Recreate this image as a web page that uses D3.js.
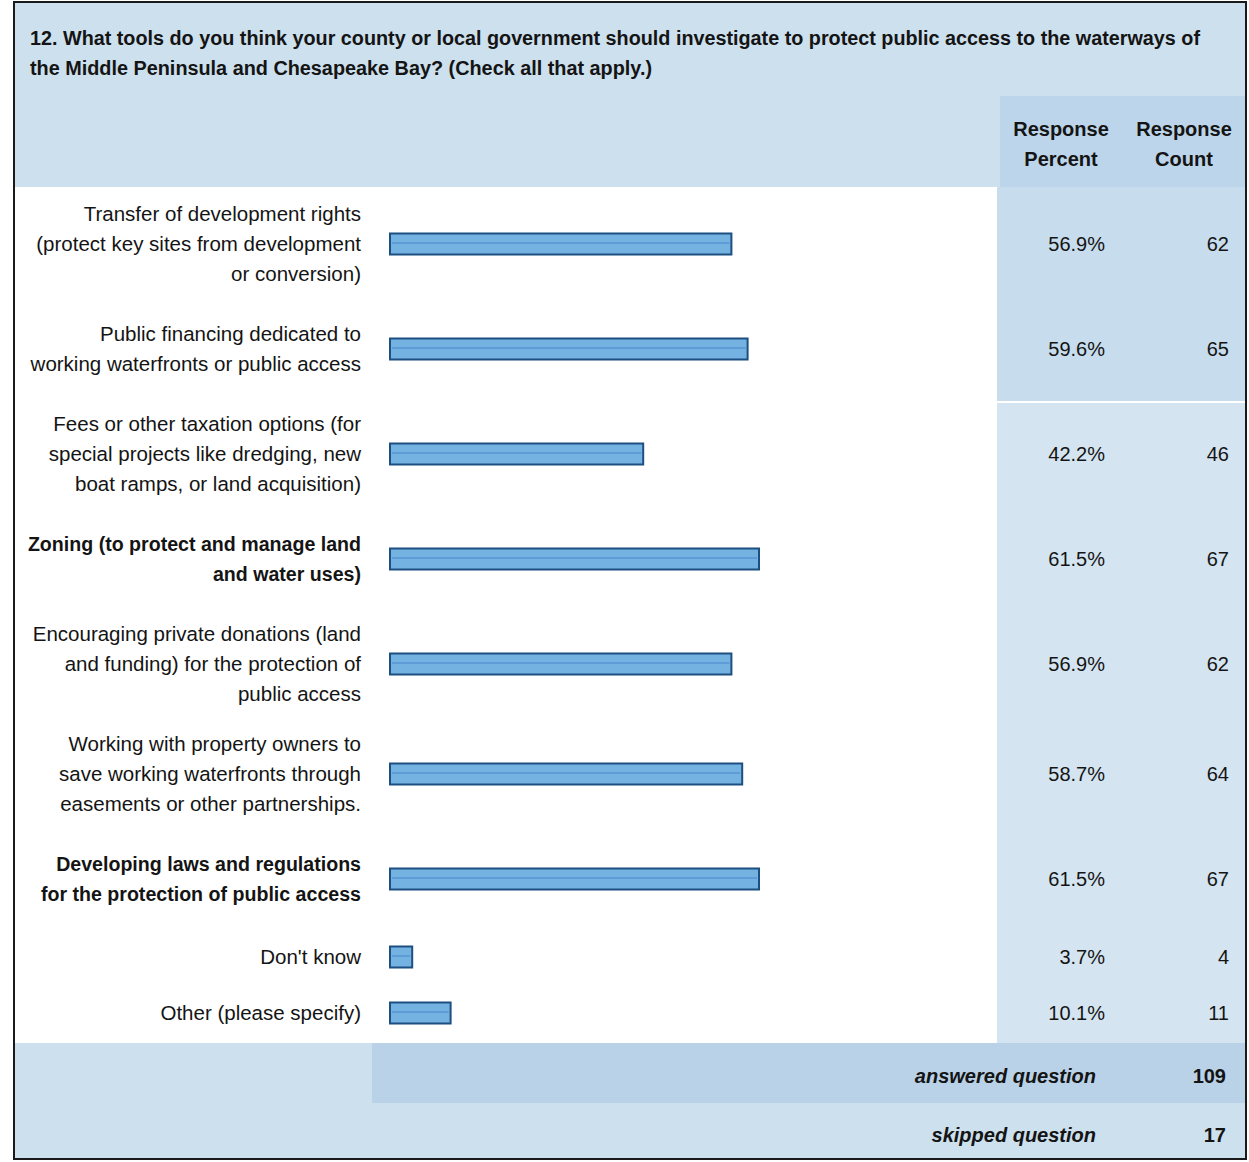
<!DOCTYPE html>
<html>
<head>
<meta charset="utf-8">
<script src="https://cdn.jsdelivr.net/npm/d3@7"></script>
<style>
  body { margin: 0; background: #ffffff; }
  svg text { font-family: "Liberation Sans", Arial, sans-serif; fill: #141414; }
</style>
</head>
<body>
<div id="chart"></div>
<script>
// question title (two lines as printed)
const titleLines = [
    "12. What tools do you think your county or local government should investigate to protect public access to the waterways of",
    "the Middle Peninsula and Chesapeake Bay? (Check all that apply.)"
];

// answer options, each broken into printed lines
const options = [
    ["Transfer of development rights", "(protect key sites from development", "or conversion)"],
    ["Public financing dedicated to", "working waterfronts or public access"],
    ["Fees or other taxation options (for", "special projects like dredging, new", "boat ramps, or land acquisition)"],
    ["Zoning (to protect and manage land", "and water uses)"],
    ["Encouraging private donations (land", "and funding) for the protection of", "public access"],
    ["Working with property owners to", "save working waterfronts through", "easements or other partnerships."],
    ["Developing laws and regulations", "for the protection of public access"],
    ["Don't know"],
    ["Other (please specify)"]
];

// options printed darker in the scan
const boldOptions = [3, 6];

const responsePercent = [56.9, 59.6, 42.2, 61.5, 56.9, 58.7, 61.5, 3.7, 10.1];
const responseCount = [62, 65, 46, 67, 62, 64, 67, 4, 11];

const summaryLabels = ["answered question", "skipped question"];
const summaryValues = [109, 17];

const headerLines = [["Response", "Percent"], ["Response", "Count"]];

// layout
const W = 1249, H = 1162;
const frame = {left: 14, right: 1246, top: 2, bottom: 1159};
const bodyTop = 187, colSplit = 997;
const rowHeightByLines = {1: 56, 2: 100, 3: 110};
const lineH = 30;

const svg = d3.select("#chart").append("svg")
    .attr("width", W).attr("height", H);

// bar scale
const x = d3.scaleLinear().domain([0, 100]).range([390, 990]);

// row positions from the line counts
let rows = [];
let yCursor = bodyTop + 2;
options.forEach((lines, i) => {
    const h = rowHeightByLines[lines.length];
    rows.push({i: i, lines: lines, top: yCursor, h: h, cy: yCursor + h / 2});
    yCursor += h;
});
const bodyBottom = 1043;

// backgrounds
svg.append("rect").attr("x", frame.left).attr("y", frame.top)
    .attr("width", frame.right - frame.left).attr("height", bodyTop - frame.top)
    .attr("fill", "#cde0ee");
svg.append("rect").attr("x", colSplit + 3).attr("y", 96)
    .attr("width", frame.right - colSplit - 3).attr("height", bodyTop - 96)
    .attr("fill", "#bdd5ea");

// right hand columns: first two rows a touch darker, then light
const splitY = rows[2].top + 2;
svg.append("rect").attr("x", colSplit).attr("y", bodyTop)
    .attr("width", frame.right - colSplit).attr("height", splitY - bodyTop)
    .attr("fill", "#c7dcec");
svg.append("rect").attr("x", colSplit).attr("y", splitY + 2)
    .attr("width", frame.right - colSplit).attr("height", bodyBottom - splitY - 2)
    .attr("fill", "#d4e5f1");

// summary rows
svg.append("rect").attr("x", frame.left).attr("y", bodyBottom)
    .attr("width", frame.right - frame.left).attr("height", frame.bottom - bodyBottom)
    .attr("fill", "#cde0ee");
svg.append("rect").attr("x", 372).attr("y", bodyBottom)
    .attr("width", frame.right - 372).attr("height", 60)
    .attr("fill", "#b9d2e8");

// outer frame
svg.append("rect").attr("x", frame.left).attr("y", frame.top)
    .attr("width", frame.right - frame.left).attr("height", frame.bottom - frame.top)
    .attr("fill", "none").attr("stroke", "#1a1a1a").attr("stroke-width", 2);

// title
svg.selectAll("text.title").data(titleLines).enter().append("text")
    .attr("class", "title")
    .attr("x", 30).attr("y", (d, i) => 45 + i * 30)
    .attr("font-size", 20).attr("font-weight", "bold")
    .attr("textLength", (d, i) => i === 0 ? 1170 : 622)
    .attr("lengthAdjust", "spacingAndGlyphs")
    .text(d => d);

// column headers
headerLines.forEach((lines, c) => {
    svg.selectAll("text.hdr" + c).data(lines).enter().append("text")
        .attr("class", "hdr" + c)
        .attr("x", c === 0 ? 1061 : 1184).attr("y", (d, i) => 136 + i * 30)
        .attr("text-anchor", "middle")
        .attr("font-size", 20).attr("font-weight", "bold")
        .text(d => d);
});

// option labels
const labelG = svg.append("g");
rows.forEach(r => {
    const n = r.lines.length;
    const isBold = boldOptions.includes(r.i);
    labelG.selectAll("text.lab" + r.i).data(r.lines).enter().append("text")
        .attr("class", "lab" + r.i)
        .attr("x", 361)
        .attr("y", (d, k) => r.cy + (k - (n - 1) / 2) * lineH + 7)
        .attr("text-anchor", "end")
        .attr("font-size", isBold ? 19.6 : 20.5)
        .attr("font-weight", isBold ? "bold" : "normal")
        .text(d => d);
});

// bars
const barH = 21;
const bars = svg.append("g").selectAll("g.bar").data(rows).enter().append("g").attr("class", "bar");
bars.append("rect")
    .attr("x", x(0)).attr("y", d => d.cy - barH / 2)
    .attr("width", d => x(responsePercent[d.i]) - x(0)).attr("height", barH)
    .attr("fill", "#74b2e2").attr("stroke", "#1d4f80").attr("stroke-width", 2);
bars.append("line")
    .attr("x1", x(0) + 2).attr("x2", d => x(responsePercent[d.i]) - 2)
    .attr("y1", d => d.cy - 1).attr("y2", d => d.cy - 1)
    .attr("stroke", "#4f8fcf").attr("stroke-width", 2).attr("opacity", 0.6);

// percent and count
svg.selectAll("text.pct").data(rows).enter().append("text")
    .attr("class", "pct")
    .attr("x", 1105).attr("y", d => d.cy + 7)
    .attr("text-anchor", "end").attr("font-size", 20)
    .text(d => responsePercent[d.i].toFixed(1) + "%");
svg.selectAll("text.cnt").data(rows).enter().append("text")
    .attr("class", "cnt")
    .attr("x", 1229).attr("y", d => d.cy + 7)
    .attr("text-anchor", "end").attr("font-size", 20)
    .text(d => responseCount[d.i]);

// summary
svg.selectAll("text.sumlab").data(summaryLabels).enter().append("text")
    .attr("class", "sumlab")
    .attr("x", 1096).attr("y", (d, i) => 1083 + i * 59)
    .attr("text-anchor", "end").attr("font-size", 20)
    .attr("font-weight", "bold").attr("font-style", "italic")
    .text(d => d);
svg.selectAll("text.sumval").data(summaryValues).enter().append("text")
    .attr("class", "sumval")
    .attr("x", 1226).attr("y", (d, i) => 1083 + i * 59)
    .attr("text-anchor", "end").attr("font-size", 20)
    .attr("font-weight", "bold")
    .text(d => d);
</script>
</body>
</html>
